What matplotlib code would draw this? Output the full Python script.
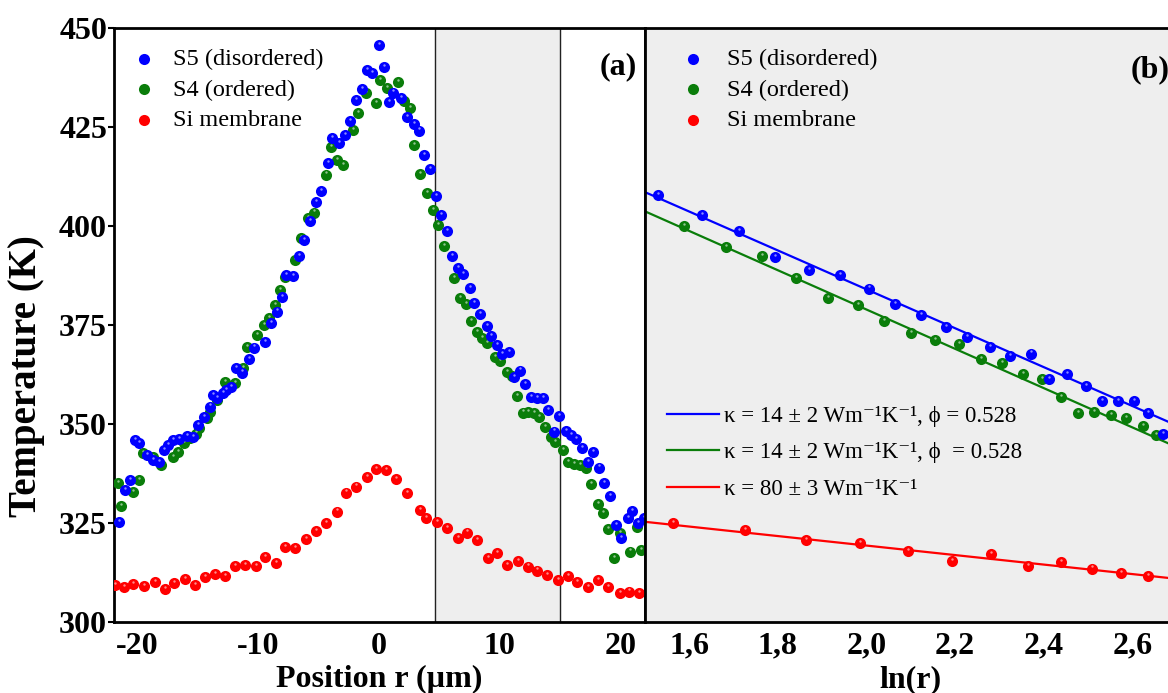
import numpy as np
import matplotlib
matplotlib.use("Agg")
import matplotlib.pyplot as plt
from matplotlib.transforms import offset_copy

plt.rcParams['font.family'] = ['Liberation Serif', 'DejaVu Serif']
plt.rcParams['axes.unicode_minus'] = False

# ---- panel (a): temperature profile vs position ----
s5_x = [-21.5, -21.0, -20.6, -20.2, -19.85, -19.2, -18.7, -18.2, -17.8, -17.4, -17.0, -16.5,
        -15.9, -15.4, -14.95, -14.5, -14.0, -13.7, -13.4, -12.9, -12.6, -12.2, -11.8, -11.35,
        -10.7, -10.3, -9.4, -8.9, -8.4, -8.0, -7.7, -7.1, -6.6, -6.2, -5.7, -5.2, -4.8, -4.2,
        -3.9, -3.3, -2.8, -2.37, -1.9, -1.4, -0.99, -0.57, 0.0, 0.39, 0.8, 1.2, 1.8, 2.3, 2.9,
        3.3, 3.7, 4.2, 4.7, 5.15, 5.6, 6.06, 6.5, 6.97, 7.5, 7.9, 8.35, 8.9, 9.3, 9.8, 10.2,
        10.75, 11.2, 11.7, 12.1, 12.55, 13.1, 13.6, 14.0, 14.5, 14.9, 15.5, 15.9, 16.3, 16.8,
        17.25, 17.7, 18.2, 18.6, 19.1, 19.6, 20.0, 20.6, 20.9, 21.4, 21.9]
s5_T = [325.3, 333.3, 335.9, 346.0, 345.3, 342.2, 340.9, 340.5, 343.4, 344.7, 346.0, 346.1,
        347.0, 346.8, 349.7, 351.8, 354.4, 357.3, 356.5, 357.9, 358.6, 359.3, 364.1, 363.0,
        366.3, 369.3, 370.8, 375.5, 378.4, 382.1, 387.6, 387.4, 392.4, 396.5, 401.3, 406.1,
        408.8, 416.0, 422.1, 420.9, 423.0, 426.6, 431.8, 434.5, 439.4, 438.7, 445.7, 440.2,
        431.4, 433.7, 432.2, 427.4, 425.8, 424.1, 417.9, 414.3, 407.6, 402.8, 398.8, 392.4,
        389.3, 387.9, 384.4, 380.6, 377.7, 374.8, 372.3, 369.9, 367.7, 368.2, 361.8, 363.5,
        360.0, 356.9, 356.5, 356.6, 353.5, 348.1, 352.1, 348.3, 347.2, 346.1, 344.0, 340.5,
        343.0, 339.0, 335.0, 331.8, 324.5, 321.1, 326.2, 328.1, 324.9, 326.2]

s4_x = [-21.6, -21.3, -20.3, -19.8, -19.5, -18.7, -18.0, -17.0, -16.6, -16.1, -15.6, -15.1,
        -14.9, -14.25, -14.0, -13.4, -12.7, -11.9, -11.2, -10.9, -10.1, -9.5, -9.1, -8.6,
        -8.2, -7.8, -6.9, -6.4, -5.9, -5.4, -4.4, -4.0, -3.5, -3.0, -2.1, -1.7, -1.1, -0.2,
        0.1, 0.7, 1.6, 2.05, 2.6, 2.9, 3.4, 4.0, 4.45, 4.9, 5.4, 6.25, 6.7, 7.2, 7.6, 8.1,
        8.55, 8.95, 9.6, 10.0, 10.6, 11.0, 11.45, 11.9, 12.3, 12.8, 13.2, 13.7, 14.2, 14.6,
        15.2, 15.6, 16.1, 16.6, 17.1, 17.5, 18.1, 18.5, 18.9, 19.4, 19.9, 20.8, 21.3, 21.7]
s4_T = [335.2, 329.3, 332.9, 335.9, 342.6, 341.7, 339.6, 341.7, 343.0, 345.1, 346.4, 347.6,
        348.9, 351.4, 353.1, 356.1, 360.7, 360.3, 364.1, 369.5, 372.5, 375.0, 376.7, 380.1,
        383.8, 387.2, 391.4, 396.9, 402.0, 403.4, 413.0, 420.0, 416.7, 415.4, 424.2, 428.5,
        433.5, 431.1, 436.9, 434.8, 436.4, 431.6, 429.7, 420.5, 413.1, 408.4, 404.0, 400.3,
        394.9, 386.8, 381.9, 380.3, 376.1, 373.3, 371.6, 370.5, 366.8, 366.0, 363.2, 362.0,
        357.1, 352.9, 353.1, 352.7, 351.8, 349.2, 346.6, 345.5, 343.4, 340.3, 340.0, 339.6,
        338.8, 334.8, 329.8, 327.6, 323.4, 316.1, 322.4, 317.8, 324.1, 318.2]

si_x = [-21.85, -21.1, -20.3, -19.4, -18.5, -17.7, -16.9, -16.05, -15.2, -14.4, -13.55, -12.7,
        -11.9, -11.05, -10.2, -9.4, -8.5, -7.8, -6.9, -6.0, -5.2, -4.4, -3.5, -2.7, -1.9, -1.0,
        -0.2, 0.6, 1.45, 2.3, 3.4, 3.9, 4.8, 5.65, 6.5, 7.3, 8.1, 9.0, 9.8, 10.6, 11.5, 12.3,
        13.1, 13.9, 14.8, 15.6, 16.4, 17.3, 18.1, 18.9, 19.9, 20.7, 21.5]
si_T = [309.3, 308.8, 309.6, 309.1, 310.2, 308.3, 309.9, 310.8, 309.3, 311.3, 312.1, 311.6,
        314.1, 314.4, 314.1, 316.3, 314.8, 318.9, 318.6, 320.9, 323.0, 325.1, 327.9, 332.7,
        334.2, 336.5, 338.6, 338.4, 336.0, 332.5, 328.3, 326.2, 325.3, 323.7, 321.1, 322.6,
        320.7, 316.1, 317.3, 314.4, 315.5, 314.0, 313.0, 311.9, 310.6, 311.5, 310.0, 308.9,
        310.6, 308.8, 307.4, 307.7, 307.4]

# fitting window marked in panel (a)
window = [4.6, 15.0]

# ---- panel (b): T vs ln(r) with linear fits ----
s5_ln = [1.53, 1.628, 1.713, 1.794, 1.87, 1.94, 2.005, 2.065, 2.123, 2.18, 2.227, 2.278,
         2.324, 2.372, 2.411, 2.453, 2.495, 2.531, 2.567, 2.603, 2.635, 2.67]
s5_lnT = [407.8, 402.7, 398.8, 392.2, 388.8, 387.6, 384.2, 380.3, 377.4, 374.6, 372.0, 369.5,
          367.1, 367.8, 361.4, 362.7, 359.5, 355.9, 355.7, 355.9, 352.8, 347.4]
s4_ln = [1.589, 1.682, 1.764, 1.84, 1.914, 1.98, 2.04, 2.10, 2.154, 2.208, 2.258, 2.305,
         2.352, 2.395, 2.438, 2.477, 2.514, 2.552, 2.586, 2.624, 2.653]
s4_lnT = [400.1, 394.7, 392.4, 386.8, 381.7, 380.0, 375.9, 372.9, 371.2, 370.1, 366.4, 365.5,
          362.7, 361.3, 356.7, 352.8, 353.1, 352.2, 351.6, 349.4, 347.1]
si_ln = [1.564, 1.726, 1.863, 1.986, 2.094, 2.192, 2.282, 2.364, 2.438, 2.509, 2.575, 2.635]
si_lnT = [325.0, 323.3, 320.8, 319.9, 318.0, 315.5, 317.1, 314.2, 315.1, 313.5, 312.3, 311.7]

# fit lines: T = a + b*ln(r)
fit_a = [482.2, 478.1, 343.3]
fit_b = [-49.1, -49.6, -12.0]
fit_labels = ['κ = 14 ± 2 Wm⁻¹K⁻¹, ϕ = 0.528',
              'κ = 14 ± 2 Wm⁻¹K⁻¹, ϕ  = 0.528',
              'κ = 80 ± 3 Wm⁻¹K⁻¹']

series_labels = ['S5 (disordered)', 'S4 (ordered)', 'Si membrane']
colors = ['#0000ff', '#0a7d0a', '#ff0000']
xt_b = [1.6, 1.8, 2.0, 2.2, 2.4, 2.6]
xt_b_lab = ['1,6', '1,8', '2,0', '2,2', '2,4', '2,6']

W, H = 1168, 693
fig = plt.figure(figsize=(W / 100, H / 100), dpi=100)
ax1 = fig.add_axes([114 / W, 1 - 622 / H, 531 / W, 594 / H])
ax2 = fig.add_axes([645 / W, 1 - 622 / H, 576 / W, 594 / H], sharey=ax1)

ms = 64
bgray = '#eeeeee'


def dots(ax, x, y, c, z):
    # filled dot plus a small light speck, like the shaded markers of the original
    ax.scatter(x, y, s=ms, color=c, lw=0, zorder=z)
    tr = offset_copy(ax.transData, fig=fig, x=0, y=1.5, units='points')
    ax.scatter(x, y, s=3, color='white', alpha=0.55, lw=0, zorder=z, transform=tr)


# panel a
ax1.axvspan(window[0], window[1], color=bgray, zorder=0)
for xv in window:
    ax1.axvline(xv, color='#222222', lw=1.0, zorder=1)
dots(ax1, si_x, si_T, colors[2], 3)
dots(ax1, s4_x, s4_T, colors[1], 3)
dots(ax1, s5_x, s5_T, colors[0], 4)
ax1.set_xlim(-21.9, 22.0)
ax1.set_ylim(300, 450)
ax1.set_yticks([300, 325, 350, 375, 400, 425, 450])
ax1.set_xticks([-20, -10, 0, 10, 20])
ax1.set_xlabel('Position r (µm)', fontsize=23, fontweight='bold', va='center')
ax1.set_ylabel('Temperature (K)', fontsize=28, fontweight='bold', va='center')
ax1.xaxis.set_label_coords(0.5, -0.097)
ax1.yaxis.set_label_coords(-0.165, 0.414)
ax1.text(0.985, 0.935, '(a)', transform=ax1.transAxes, ha='right', va='center',
         fontsize=23, fontweight='bold')

h = [ax1.scatter([], [], s=ms, color=c, lw=0) for c in colors]
ax1.legend(h, series_labels, loc='upper left', bbox_to_anchor=(0.034, 0.966),
           frameon=False, fontsize=17.5, handlelength=1.0, handletextpad=0.7,
           labelspacing=0.35, borderpad=0, borderaxespad=0, scatterpoints=1)

# panel b
ax2.set_facecolor(bgray)
dots(ax2, si_ln, si_lnT, colors[2], 3)
dots(ax2, s4_ln, s4_lnT, colors[1], 3)
dots(ax2, s5_ln, s5_lnT, colors[0], 4)
ax2.set_xlim(1.5, 2.8)
xx = np.array([1.5, 2.8])
lines = []
for a, b, c in zip(fit_a, fit_b, colors):
    ln, = ax2.plot(xx, a + b * xx, color=c, lw=1.6, zorder=2)
    lines.append(ln)
ax2.set_xticks(xt_b)
ax2.set_xticklabels(xt_b_lab)
ax2.set_xlabel('ln(r)', fontsize=23, fontweight='bold', va='center')
ax2.xaxis.set_label_coords(0.46, -0.097)
ax2.tick_params(axis='y', left=False, labelleft=False)
ax2.text(2.595, 439.4, '(b)', ha='left', va='center', fontsize=23, fontweight='bold')

h2 = [ax2.scatter([], [], s=ms, color=c, lw=0) for c in colors]
leg2 = ax2.legend(h2, series_labels, loc='upper left', bbox_to_anchor=(0.0627, 0.966),
                  frameon=False, fontsize=17.5, handlelength=1.0, handletextpad=0.9,
                  labelspacing=0.35, borderpad=0, borderaxespad=0, scatterpoints=1)
ax2.add_artist(leg2)
ax2.legend(lines, fit_labels, loc='upper left', bbox_to_anchor=(0.038, 0.364),
           frameon=False, fontsize=16.5, handlelength=2.29, handletextpad=0.21,
           labelspacing=0.67, borderpad=0, borderaxespad=0)

for ax in (ax1, ax2):
    for sp in ax.spines.values():
        sp.set_linewidth(2.0)
    ax.tick_params(axis='x', length=0, pad=7, labelsize=23)
    for lab in ax.get_xticklabels():
        lab.set_fontweight('bold')
ax1.tick_params(axis='y', direction='out', length=4, width=1.5, pad=1, labelsize=23)
for lab in ax1.get_yticklabels():
    lab.set_fontweight('bold')

fig.savefig('out.png', dpi=100)
